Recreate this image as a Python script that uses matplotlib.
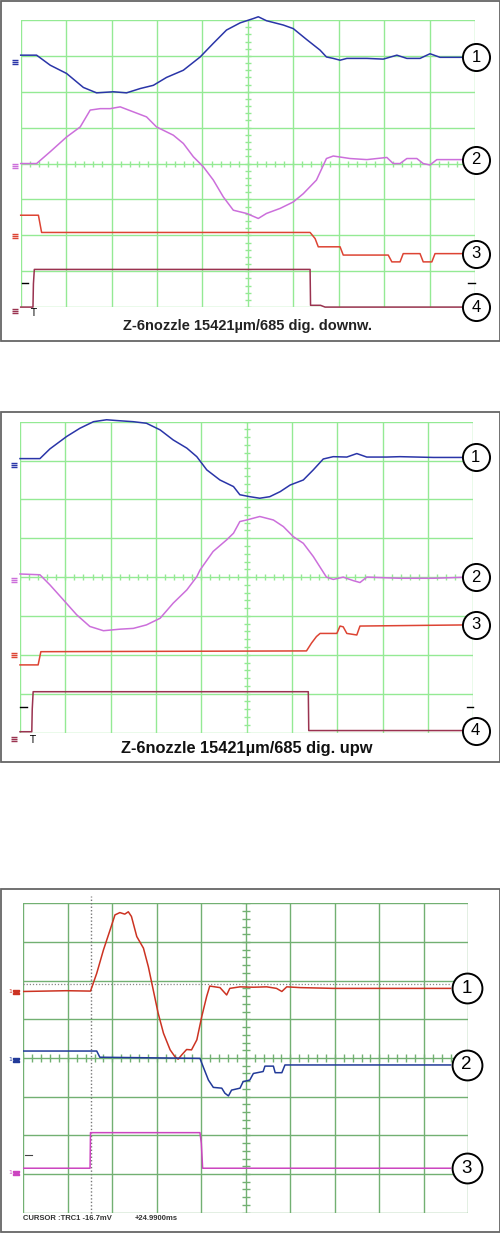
'''Drei Oszilloskop-Aufnahmen untereinander'''

import numpy as np
import matplotlib.pyplot as plt
from matplotlib.patches import Rectangle

W, H = 500, 1233

# ---- Daten (x in Teilungen 0..10, y in Teilungen 0..8) ----

# Bild 1: downw.
d_x1 = [0, 0.35, 0.65, 1.01, 1.38, 1.67, 2.04, 2.33, 2.63, 2.92, 3.21, 3.58, 3.95, 4.24, 4.53, 4.83, 5.12, 5.23,
        5.41, 5.78, 6.00, 6.29, 6.59, 6.73, 6.88, 7.03, 7.18, 7.62, 7.98, 8.28, 8.50, 8.79, 9.01, 9.23, 9.9]
d_y1 = [7.02, 7.02, 6.74, 6.51, 6.12, 5.97, 6.00, 5.97, 6.09, 6.18, 6.40, 6.60, 6.97, 7.35, 7.72, 7.92, 8.04, 8.09,
        7.98, 7.86, 7.76, 7.46, 7.16, 6.97, 6.93, 6.88, 6.93, 6.93, 6.91, 7.02, 6.93, 6.93, 7.06, 6.96, 6.96]
d_x2 = [0, 0.35, 0.65, 1.01, 1.31, 1.53, 1.75, 1.97, 2.19, 2.48, 2.77, 2.99, 3.36, 3.58, 3.80, 4.02, 4.24, 4.46, 4.68,
        4.97, 5.23, 5.41, 5.71, 6.00, 6.22, 6.51, 6.73, 6.88, 7.25, 7.62, 8.06, 8.20, 8.35, 8.50, 8.72, 8.86, 9.01,
        9.16, 9.9]
d_y2 = [4.0, 4.0, 4.33, 4.74, 5.02, 5.49, 5.53, 5.53, 5.58, 5.44, 5.30, 5.02, 4.79, 4.56, 4.19, 3.91, 3.54, 3.07, 2.70,
        2.61, 2.47, 2.61, 2.75, 2.93, 3.16, 3.54, 4.14, 4.21, 4.14, 4.11, 4.17, 4.0, 4.0, 4.14, 4.14, 4.0, 3.96,
        4.11, 4.11]
d_x3 = [0, 0.39, 0.46, 6.37, 6.48, 6.55, 7.03, 7.10, 8.09, 8.17, 8.35, 8.42, 8.79, 8.86, 9.05, 9.12, 9.9]
d_y3 = [2.56, 2.56, 2.08, 2.08, 1.91, 1.68, 1.68, 1.45, 1.45, 1.26, 1.26, 1.49, 1.49, 1.26, 1.26, 1.49, 1.49]
d_x4 = [0, 0.27, 0.28, 0.30, 6.37, 6.38, 6.6, 6.7, 9.9]
d_y4 = [0, 0, 0.65, 1.05, 1.05, 0.05, 0.05, 0, 0]
d_gnd = [6.83, 3.93, 1.98, -0.1]
d_title = 'Z-6nozzle 15421µm/685 dig. downw.'

# Bild 2: upw
u_x1 = [0, 0.44, 0.66, 1.03, 1.32, 1.62, 1.91, 2.13, 2.50, 2.79, 3.09, 3.38, 3.68, 3.90, 4.12, 4.41, 4.71, 4.85,
        5.07, 5.29, 5.51, 5.74, 5.96, 6.25, 6.47, 6.69, 6.91, 7.21, 7.43, 7.65, 8.09, 8.38, 9.12, 9.9]
u_y1 = [7.05, 7.05, 7.30, 7.62, 7.83, 8.00, 8.05, 8.03, 8.00, 7.96, 7.79, 7.53, 7.32, 7.10, 6.76, 6.50, 6.33, 6.12,
        6.07, 6.03, 6.07, 6.20, 6.37, 6.50, 6.76, 7.04, 7.10, 7.09, 7.18, 7.09, 7.09, 7.10, 7.08, 7.08]
u_x2 = [0, 0.44, 0.66, 0.96, 1.25, 1.54, 1.84, 2.21, 2.50, 2.79, 3.09, 3.38, 3.68, 3.90, 3.97, 4.26, 4.56, 4.71,
        4.85, 5.0, 5.29, 5.59, 5.81, 6.03, 6.25, 6.47, 6.76, 6.91, 7.13, 7.35, 7.50, 7.65, 8.38, 9.12, 9.9]
u_y2 = [4.08, 4.06, 3.80, 3.41, 3.03, 2.73, 2.62, 2.66, 2.68, 2.77, 2.94, 3.33, 3.67, 4.01, 4.18, 4.66, 4.96, 5.13,
        5.43, 5.47, 5.56, 5.47, 5.30, 5.04, 4.87, 4.53, 4.00, 3.94, 4.00, 3.91, 3.86, 4.00, 3.97, 3.97, 4.0]
u_x3 = [0, 0.40, 0.46, 6.32, 6.43, 6.54, 6.62, 6.99, 7.06, 7.13, 7.21, 7.43, 7.50, 9.9]
u_y3 = [1.74, 1.74, 2.08, 2.10, 2.30, 2.47, 2.55, 2.55, 2.74, 2.72, 2.55, 2.51, 2.74, 2.77]
u_x4 = [0, 0.26, 0.27, 0.29, 6.36, 6.37, 9.9]
u_y4 = [0.02, 0.02, 0.6, 1.05, 1.05, 0.05, 0.05]
u_gnd = [6.89, 3.93, 1.99, -0.17]
u_title = 'Z-6nozzle 15421µm/685 dig. upw'

# Bild 3: Cursor-Aufnahme
c_x1 = [0, 0.97, 1.51, 1.65, 1.80, 1.95, 2.06, 2.17, 2.28, 2.36, 2.43, 2.55, 2.70, 2.81, 2.92, 3.03, 3.15, 3.30,
        3.41, 3.48, 3.56, 3.67, 3.78, 3.90, 4.01, 4.12, 4.19, 4.42, 4.57, 4.64, 4.87, 5.17, 5.47, 5.69, 5.81, 5.92,
        6.22, 6.97, 9.6]
c_y1 = [5.72, 5.74, 5.73, 6.19, 6.79, 7.31, 7.70, 7.76, 7.72, 7.78, 7.66, 7.14, 6.84, 6.36, 5.76, 5.16, 4.64, 4.21,
        4.03, 3.97, 4.08, 4.22, 4.21, 4.47, 5.07, 5.59, 5.86, 5.82, 5.63, 5.80, 5.84, 5.83, 5.84, 5.80, 5.72, 5.84,
        5.82, 5.80, 5.80]
c_x2 = [0, 1.65, 1.72, 3.97, 4.04, 4.16, 4.27, 4.46, 4.53, 4.61, 4.68, 4.87, 4.94, 5.09, 5.17, 5.39, 5.43, 5.62,
        5.66, 5.81, 5.88, 9.6]
c_y2 = [4.18, 4.18, 4.02, 3.99, 3.78, 3.43, 3.24, 3.22, 3.09, 3.02, 3.17, 3.22, 3.39, 3.43, 3.60, 3.65, 3.79, 3.79,
        3.62, 3.62, 3.82, 3.82]
c_x3 = [0, 1.50, 1.51, 3.97, 4.00, 4.03, 9.6]
c_y3 = [1.15, 1.15, 2.07, 2.07, 1.80, 1.15, 1.15]
c_gnd = [5.71, 3.95, 1.03]
c_cursor_x = 1.52
c_cursor_y = 5.91
c_text = ['CURSOR :TRC1 -16.7mV', '+24.9900ms']

# ---- Zeichnen ----

fig = plt.figure(figsize=(W / 100, H / 100), dpi=100)


def rahmen(x0, y0, x1, y1):
    fig.add_artist(Rectangle((x0 / W, 1 - y1 / H), (x1 - x0) / W, (y1 - y0) / H,
                             transform=fig.transFigure, fill=False, ec='#666666', lw=1.3))


def raster(x0, y0, x1, y1, farbe, tick=3.0):
    ax = fig.add_axes([x0 / W, 1 - y1 / H, (x1 - x0) / W, (y1 - y0) / H])
    ax.set_xlim(0, 10)
    ax.set_ylim(0, 8)
    ax.set_axis_off()
    for i in range(11):
        ax.axvline(i, color=farbe, lw=1, zorder=1)
    for j in range(9):
        ax.axhline(j, color=farbe, lw=1, zorder=1)
    # kleine Striche auf den Mittellinien
    dx = tick / ((x1 - x0) / 10)
    dy = tick / ((y1 - y0) / 8)
    ax.vlines(np.arange(0, 10.01, 0.2), 4 - dy, 4 + dy, color=farbe, lw=1, zorder=1)
    ax.hlines(np.arange(0, 8.01, 0.2), 5 - dx, 5 + dx, color=farbe, lw=1, zorder=1)
    return ax


def kreis(ax, x, y, nr, ms, fs):
    ax.plot(x, y, 'o', ms=ms, mfc='white', mec='black', mew=1.4, clip_on=False, zorder=5)
    ax.text(x, y, nr, ha='center', va='center', fontsize=fs, family='Liberation Sans', zorder=6)


gruen = '#94ea94'

# Bild 1
rahmen(1, 0.5, 499.5, 341)
ax1 = raster(20.7, 20, 475, 307.1, gruen)
spuren1 = [(d_x1, d_y1, '#2a35a8'), (d_x2, d_y2, '#cc6fdb'), (d_x3, d_y3, '#dd4433'), (d_x4, d_y4, '#9a3350')]
for k, (xs, ys, c) in enumerate(spuren1):
    ax1.plot(xs, ys, color=c, lw=1.1, zorder=3, clip_on=False)
    ax1.plot(-0.13, d_gnd[k], marker=r'$\equiv$', ms=5, color=c, clip_on=False)
    kreis(ax1, 10.02, ys[-1], str(k + 1), 19.5, 12)
ax1.text(0.27, -0.16, 'T', ha='center', va='center', fontsize=7, clip_on=False)
ax1.plot([0.02, 0.17], [0.67, 0.67], color='black', lw=1, clip_on=False)
ax1.plot([9.85, 10.0], [0.67, 0.67], color='black', lw=1, clip_on=False)
ax1.text(5, -0.53, d_title, ha='center', va='center', fontsize=10.5, fontweight='bold',
         family='Liberation Sans', color='#222222', clip_on=False)

# Bild 2
rahmen(1, 411.7, 499.5, 761.7)
ax2 = raster(20, 421.7, 473.3, 732.5, gruen)
spuren2 = [(u_x1, u_y1, '#2a35a8'), (u_x2, u_y2, '#cc6fdb'), (u_x3, u_y3, '#dd4433'), (u_x4, u_y4, '#9a3350')]
for k, (xs, ys, c) in enumerate(spuren2):
    ax2.plot(xs, ys, color=c, lw=1.1, zorder=3, clip_on=False)
    ax2.plot(-0.13, u_gnd[k], marker=r'$\equiv$', ms=5, color=c, clip_on=False)
    kreis(ax2, 10.05, ys[-1], str(k + 1), 19.5, 12)
ax2.text(0.27, -0.2, 'T', ha='center', va='center', fontsize=7, clip_on=False)
ax2.plot([0.0, 0.15], [0.66, 0.66], color='black', lw=1, clip_on=False)
ax2.plot([9.85, 10.0], [0.66, 0.66], color='black', lw=1, clip_on=False)
ax2.text(5, -0.41, u_title, ha='center', va='center', fontsize=11.8, fontweight='bold',
         family='Liberation Sans', color='#111111', clip_on=False)

# Bild 3
rahmen(1, 889, 499.5, 1232)
ax3 = raster(23.3, 903.3, 468.3, 1212.7, '#72b072', tick=4.0)
ax3.axvline(c_cursor_x, ymin=0, ymax=8.2 / 8, color='#777777', lw=1, ls=(0, (1, 1.5)), clip_on=False, zorder=2)
ax3.plot([0, 9.6], [c_cursor_y, c_cursor_y], color='#888888', lw=0.9, ls=(0, (1, 1.5)), zorder=2)
spuren3 = [(c_x1, c_y1, '#cc3322'), (c_x2, c_y2, '#223a99'), (c_x3, c_y3, '#cc44c0')]
for k, (xs, ys, c) in enumerate(spuren3):
    ax3.plot(xs, ys, color=c, lw=1.1, zorder=3)
    ax3.plot(-0.16, c_gnd[k], marker=r'$\equiv$', ms=4, color=c, clip_on=False)
    ax3.text(-0.3, c_gnd[k], '1', ha='center', va='center', fontsize=4.5, color=c, clip_on=False)
    kreis(ax3, 9.96, ys[-1], str(k + 1), 21.5, 13.5)
ax3.plot([0.04, 0.19], [1.49, 1.49], color='#444444', lw=0.8)
ax3.text(0, -0.15, c_text[0], ha='left', va='center', fontsize=5.5, fontweight='bold',
         family='Liberation Sans', color='#333333', clip_on=False)
ax3.text(2.51, -0.15, c_text[1], ha='left', va='center', fontsize=5.5, fontweight='bold',
         family='Liberation Sans', color='#333333', clip_on=False)

fig.savefig('out.png', dpi=100)
